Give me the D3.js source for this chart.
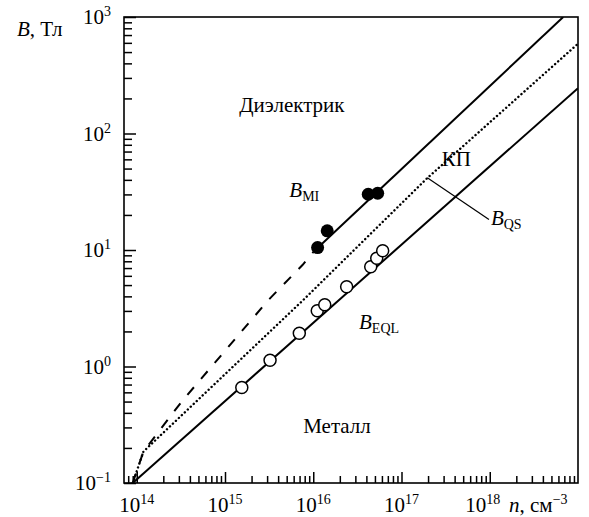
<!DOCTYPE html>
<html>
<head>
<meta charset="utf-8">
<script src="https://cdn.jsdelivr.net/npm/d3@7"></script>
<style>
  body { margin: 0; background: #fff; }
  svg { display: block; }
  text { font-family: "Liberation Serif", "Times New Roman", serif; fill: #000; }
</style>
</head>
<body>
<script>
// data (n in cm^-3, B in T)
var xTickExp = [14, 15, 16, 17, 18];
var yTickExp = [-1, 0, 1, 2, 3];

// B_MI: dashed part then solid part
var bmiDashed = [[9e13, 0.1], [1.19e14, 0.186], [3.23e14, 0.5], [3.1e15, 3.72], [7.55e15, 7.43], [1.0e16, 9.6]];
var bmiSolid = [[1.0e16, 9.6], [6.8e18, 1000]];
// quantum limit (dotted)
var kpDotted = [[9e13, 0.1], [1.19e14, 0.186], [7.7e15, 3.72], [1.93e17, 41], [1e19, 590]];
// B_EQL
var beql = [[9e13, 0.1], [1e19, 245]];

var filledN = [1.12e16, 1.44e16, 4.2e16, 5.37e16];
var filledB = [10.5, 14.6, 30.1, 30.7];
var openN = [1.55e15, 3.24e15, 6.95e15, 1.11e16, 1.35e16, 2.39e16, 4.48e16, 5.24e16, 6.12e16];
var openB = [0.66, 1.13, 1.93, 3.01, 3.39, 4.84, 7.19, 8.49, 9.86];

var leader = [[1.96e17, 41.8], [9.8e17, 18.3]];

var width = 589, height = 517;
var plot = { left: 124, right: 578, top: 17, bottom: 483 };
var fs = 21, fsSmall = 14;

var svg = d3.select('body').append('svg')
	.attr('width', width)
	.attr('height', height);

var x = d3.scaleLog().domain([7.17e13, 1e19]).range([plot.left, plot.right]);
var y = d3.scaleLog().domain([0.1, 1000]).range([plot.bottom, plot.top]);

// minor tick values, 2..9 in every decade
var xMinor = [], yMinor = [];
d3.range(13, 19).forEach(function(e) {
	d3.range(2, 10).forEach(function(m) {
		var v = m * Math.pow(10, e);
		if (v >= x.domain()[0] && v <= x.domain()[1]) xMinor.push(v);
	});
});
d3.range(-1, 3).forEach(function(e) {
	d3.range(2, 10).forEach(function(m) { yMinor.push(m * Math.pow(10, e)); });
});
var xMajor = xTickExp.map(function(e) { return Math.pow(10, e); });
var yMajor = yTickExp.map(function(e) { return Math.pow(10, e); });

// ticks pointing into the plot
function tickAxis(axis, vals, size, transform) {
	var g = svg.append('g')
		.attr('transform', transform)
		.call(axis.tickValues(vals).tickSize(size).tickSizeOuter(0).tickFormat(''));
	g.select('.domain').remove();
	g.selectAll('line').attr('stroke', '#000').attr('stroke-width', 1.5);
}
tickAxis(d3.axisTop(x), xMinor, 7, `translate(0, ${plot.bottom})`);
tickAxis(d3.axisTop(x), xMajor, 11, `translate(0, ${plot.bottom})`);
tickAxis(d3.axisRight(y), yMinor, 8, `translate(${plot.left}, 0)`);
tickAxis(d3.axisRight(y), yMajor, 12, `translate(${plot.left}, 0)`);

// frame
svg.append('rect')
	.attr('x', plot.left).attr('y', plot.top)
	.attr('width', plot.right - plot.left).attr('height', plot.bottom - plot.top)
	.attr('fill', 'none').attr('stroke', '#000').attr('stroke-width', 1.6);

// tick labels with superscripts
function powLabel(sel, e) {
	sel.append('tspan').text('10');
	sel.append('tspan').attr('dy', -8).attr('font-size', fsSmall).text(String(e).replace('-', '\u2212'));
}
xTickExp.forEach(function(e, i) {
	var t = svg.append('text')
		.attr('x', x(Math.pow(10, e)) + (i === xTickExp.length - 1 ? -7 : 0))
		.attr('y', 512)
		.attr('text-anchor', 'middle')
		.attr('font-size', fs);
	powLabel(t, e);
});
yTickExp.forEach(function(e) {
	var t = svg.append('text')
		.attr('x', 111)
		.attr('y', y(Math.pow(10, e)) + 7)
		.attr('text-anchor', 'end')
		.attr('font-size', fs);
	powLabel(t, e);
});

// axis titles
var yt = svg.append('text').attr('x', 17).attr('y', 36).attr('font-size', fs);
yt.append('tspan').attr('font-style', 'italic').text('B');
yt.append('tspan').text(', Тл');

var xt = svg.append('text').attr('x', 509).attr('y', 512).attr('font-size', fs);
xt.append('tspan').attr('font-style', 'italic').text('n');
xt.append('tspan').text(', см');
xt.append('tspan').attr('dy', -8).attr('font-size', fsSmall).text('\u22123');

// lines
svg.append('clipPath').attr('id', 'clip').append('rect')
	.attr('x', plot.left).attr('y', plot.top)
	.attr('width', plot.right - plot.left).attr('height', plot.bottom - plot.top);

var line = d3.line()
	.x(function(d) { return x(d[0]); })
	.y(function(d) { return y(d[1]); });

var lines = svg.append('g').attr('clip-path', 'url(#clip)');

lines.append('path').datum(kpDotted)
	.attr('d', line)
	.attr('fill', 'none').attr('stroke', '#000')
	.attr('stroke-width', 2.4)
	.attr('stroke-linecap', 'round')
	.attr('stroke-dasharray', '0.1,4');

lines.append('path').datum(bmiDashed)
	.attr('d', line)
	.attr('fill', 'none').attr('stroke', '#000')
	.attr('stroke-width', 2)
	.attr('stroke-dasharray', '10,11');

lines.append('path').datum(bmiSolid)
	.attr('d', line)
	.attr('fill', 'none').attr('stroke', '#000').attr('stroke-width', 2);

lines.append('path').datum(beql)
	.attr('d', line)
	.attr('fill', 'none').attr('stroke', '#000').attr('stroke-width', 2);

svg.append('path').datum(leader)
	.attr('d', line)
	.attr('fill', 'none').attr('stroke', '#000').attr('stroke-width', 1.2);

// points
svg.append('g').selectAll('circle')
	.data(openN)
	.enter().append('circle')
	.attr('cx', function(d) { return x(d); })
	.attr('cy', function(d, i) { return y(openB[i]); })
	.attr('r', 6)
	.attr('fill', '#fff').attr('stroke', '#000').attr('stroke-width', 1.5);

svg.append('g').selectAll('circle')
	.data(filledN)
	.enter().append('circle')
	.attr('cx', function(d) { return x(d); })
	.attr('cy', function(d, i) { return y(filledB[i]); })
	.attr('r', 6.5)
	.attr('fill', '#000');

// region and curve labels
function label(n, b, parts) {
	var t = svg.append('text').attr('x', x(n)).attr('y', y(b)).attr('font-size', fs);
	parts.forEach(function(p) {
		var s = t.append('tspan').text(p.t);
		if (p.i) s.attr('font-style', 'italic');
		if (p.sub) s.attr('font-size', fsSmall).attr('dy', 4);
	});
}
label(1.45e15, 154, [{ t: 'Диэлектрик' }]);
label(7.7e15, 0.268, [{ t: 'Металл' }]);
label(5.36e15, 28.6, [{ t: 'B', i: true }, { t: 'MI', sub: true }]);
label(2.86e17, 52.6, [{ t: 'КП' }]);
label(1.03e18, 16.4, [{ t: 'B', i: true }, { t: 'QS', sub: true }]);
label(3.3e16, 2.1, [{ t: 'B', i: true }, { t: 'EQL', sub: true }]);
</script>
</body>
</html>
